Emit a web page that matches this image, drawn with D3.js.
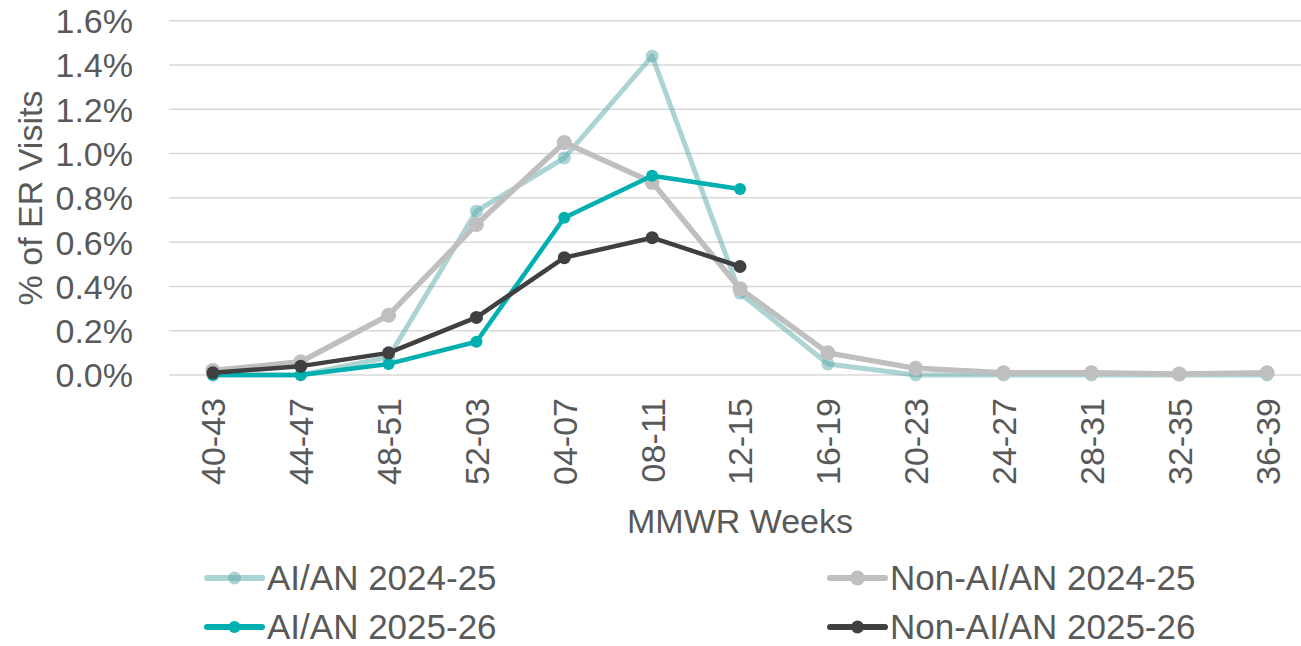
<!DOCTYPE html>
<html>
<head>
<meta charset="utf-8">
<script src="https://cdn.jsdelivr.net/npm/d3@7/dist/d3.min.js"></script>
<style>
  html, body { margin: 0; padding: 0; background: #ffffff; }
  svg { display: block; }
  text { font-family: "Liberation Sans", Arial, sans-serif; fill: #595959; }
</style>
</head>
<body>
<svg id="chart" width="1301" height="646"></svg>
<script>
// MMWR week groups (4-week bins) and share of ER visits (%) per group
const weeks = ["40-43","44-47","48-51","52-03","04-07","08-11","12-15","16-19","20-23","24-27","28-31","32-35","36-39"];

const aian2425    = [0.00, 0.00, 0.08, 0.74, 0.98, 1.44, 0.37, 0.05, 0.00, 0.00, 0.00, 0.00, 0.00];
const nonAian2425 = [0.02, 0.06, 0.27, 0.68, 1.05, 0.87, 0.39, 0.10, 0.03, 0.01, 0.01, 0.005, 0.01];
const aian2526    = [0.00, 0.00, 0.05, 0.15, 0.71, 0.90, 0.84];
const nonAian2526 = [0.01, 0.04, 0.10, 0.26, 0.53, 0.62, 0.49];

const yTicks = [0, 0.2, 0.4, 0.6, 0.8, 1.0, 1.2, 1.4, 1.6];

const series = [
  { name: "AI/AN 2024-25",     values: aian2425,    color: "#5baaaa", opacity: 0.5, width: 5,   r: 6.5 },
  { name: "Non-AI/AN 2024-25", values: nonAian2425, color: "#bfbfbf", opacity: 1,   width: 5.5, r: 7.5 },
  { name: "AI/AN 2025-26",     values: aian2526,    color: "#00afaf", opacity: 1,   width: 4.5, r: 6 },
  { name: "Non-AI/AN 2025-26", values: nonAian2526, color: "#404040", opacity: 1,   width: 4.5, r: 6.5 }
];

const svg = d3.select("#chart");
const FS = 34;
const LEGEND_FS = 35;

const x = d3.scalePoint().domain(weeks).range([169 + 43.9, 1311 - 43.9]);
const y = d3.scaleLinear().domain([0, 1.6]).range([375, 20.7]);

// horizontal gridlines
svg.append("g")
  .selectAll("line")
  .data(yTicks)
  .join("line")
  .attr("x1", 169).attr("x2", 1311)
  .attr("y1", d => y(d)).attr("y2", d => y(d))
  .attr("stroke", "#d9d9d9").attr("stroke-width", 1.5);

// y axis labels
const yAxis = d3.axisLeft(y).tickValues(yTicks).tickFormat(d => d.toFixed(1) + "%").tickSize(0).tickPadding(0);
const gy = svg.append("g").attr("transform", "translate(133,0)").call(yAxis);
gy.select(".domain").remove();
gy.selectAll("text").attr("font-size", FS).attr("font-family", "Liberation Sans, Arial, sans-serif").attr("fill", "#595959").attr("dy", "0.35em");

// x axis labels, rotated
const xAxis = d3.axisBottom(x).tickSize(0).tickPadding(0);
const gx = svg.append("g").attr("transform", "translate(0,398)").call(xAxis);
gx.select(".domain").remove();
gx.selectAll("text")
  .attr("font-size", FS).attr("font-family", "Liberation Sans, Arial, sans-serif").attr("fill", "#595959")
  .attr("text-anchor", "end")
  .attr("transform", "rotate(-90)")
  .attr("x", 0).attr("y", 0).attr("dy", "0.35em");

// axis titles
svg.append("text")
  .attr("transform", "translate(42,198) rotate(-90)")
  .attr("text-anchor", "middle")
  .attr("font-size", FS)
  .text("% of ER Visits");

svg.append("text")
  .attr("x", 740).attr("y", 533)
  .attr("text-anchor", "middle")
  .attr("font-size", FS)
  .text("MMWR Weeks");

// series lines and markers
const line = d3.line().x((d, i) => x(weeks[i])).y(d => y(d));

series.forEach(s => {
  const g = svg.append("g");
  g.append("path")
    .attr("d", line(s.values))
    .attr("fill", "none")
    .attr("stroke", s.color)
    .attr("stroke-opacity", s.opacity)
    .attr("stroke-width", s.width)
    .attr("stroke-linejoin", "round");
  g.selectAll("circle")
    .data(s.values)
    .join("circle")
    .attr("cx", (d, i) => x(weeks[i]))
    .attr("cy", d => y(d))
    .attr("r", s.r)
    .attr("fill", s.color)
    .attr("fill-opacity", s.opacity);
});

// legend (2 x 2)
const legendPos = [
  { lx: 207, ty: 578 },
  { lx: 830, ty: 578 },
  { lx: 207, ty: 627 },
  { lx: 830, ty: 627 }
];
series.forEach((s, i) => {
  const p = legendPos[i];
  const g = svg.append("g").attr("transform", `translate(${p.lx},${p.ty})`);
  g.append("line")
    .attr("x1", 0).attr("x2", 55).attr("y1", 0).attr("y2", 0)
    .attr("stroke", s.color).attr("stroke-opacity", s.opacity)
    .attr("stroke-width", 6).attr("stroke-linecap", "round");
  g.append("circle")
    .attr("cx", 27.5).attr("cy", 0).attr("r", s.r)
    .attr("fill", s.color).attr("fill-opacity", s.opacity);
  g.append("text")
    .attr("x", 60).attr("y", 0).attr("dy", "0.35em")
    .attr("font-size", LEGEND_FS)
    .text(s.name);
});
</script>
</body>
</html>
